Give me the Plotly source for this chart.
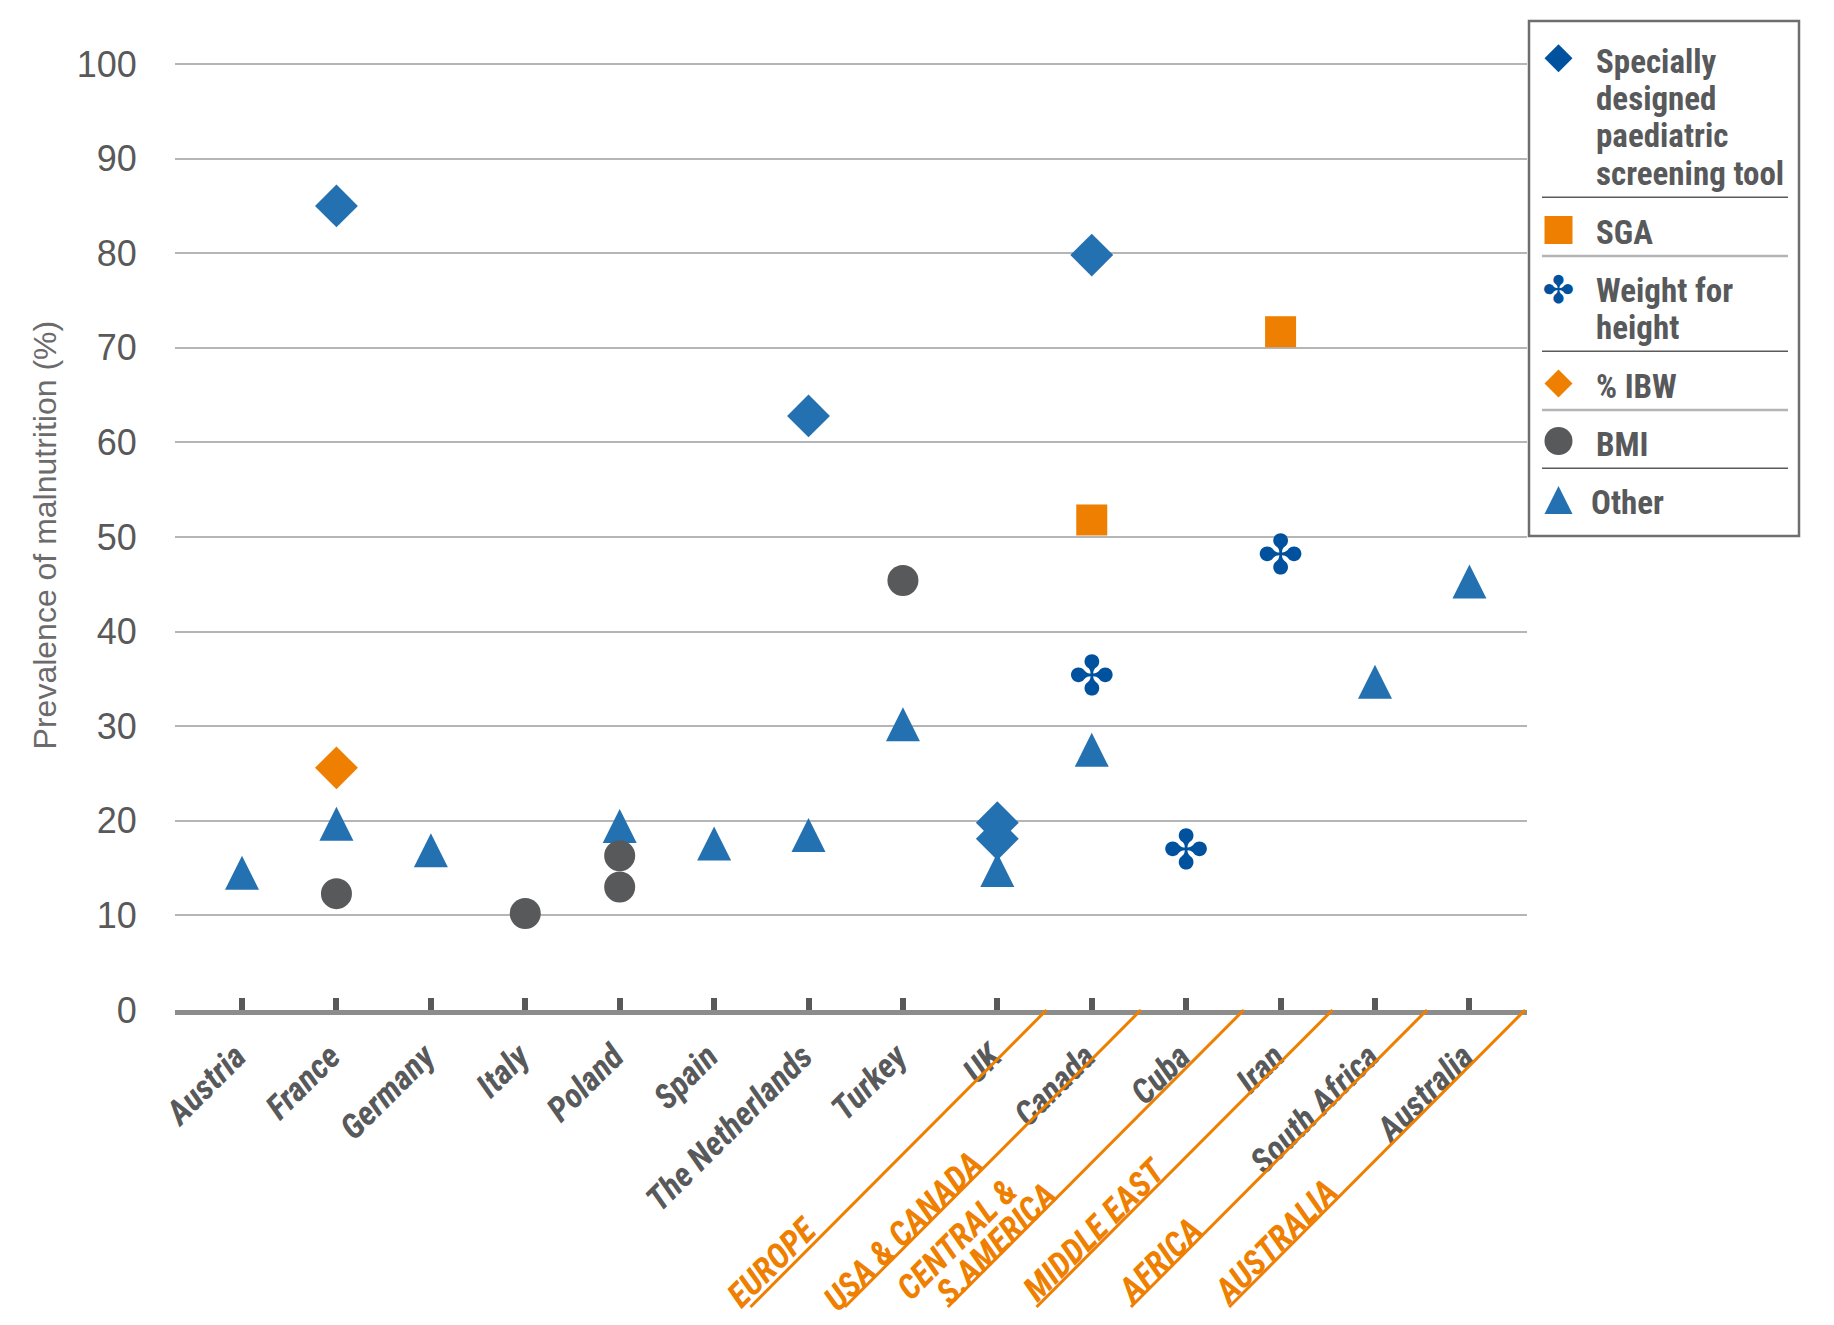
import plotly.graph_objects as go

# ---------------- data ----------------
countries = ["Austria", "France", "Germany", "Italy", "Poland", "Spain",
             "The Netherlands", "Turkey", "UK", "Canada", "Cuba", "Iran",
             "South Africa", "Australia"]

sdp_x = ["France", "The Netherlands", "UK", "UK", "Canada"]
sdp_y = [85.0, 62.8, 19.8, 18.1, 79.8]

sga_x = ["Canada", "Iran"]
sga_y = [51.8, 71.7]

wfh_x = ["Canada", "Cuba", "Iran"]
wfh_y = [34.8, 16.4, 47.5]

ibw_x = ["France"]
ibw_y = [25.6]

bmi_x = ["France", "Italy", "Poland", "Poland", "Turkey"]
bmi_y = [12.3, 10.2, 16.3, 13.0, 45.4]

oth_x = ["Austria", "France", "Germany", "Poland", "Spain", "The Netherlands",
         "Turkey", "UK", "Canada", "South Africa", "Australia"]
oth_y = [14.5, 19.7, 16.9, 19.45, 17.6, 18.5, 30.2, 14.8, 27.5, 34.7, 45.3]

series_names = ["Specially<br>designed<br>paediatric<br>screening tool", "SGA",
                "Weight for<br>height", "% IBW", "BMI", "Other"]

regions = ["EUROPE", "USA & CANADA", "CENTRAL &<br>S.AMERICA", "MIDDLE EAST",
           "AFRICA", "AUSTRALIA"]
y_ticks = [0, 10, 20, 30, 40, 50, 60, 70, 80, 90, 100]

# ---------------- geometry / styling ----------------
W, H = 1834, 1325
OFF = 8                                   # page body margin
PX0, PX1, PY0, PY1 = 175, 1527, 64, 1010  # plot area (px, as in reference)
Y_TOP = 100.4
PY_TOP = PY1 - (PY1 - PY0) * Y_TOP / 100.0


def fx(px):
    return (px - OFF) / W


def fy(py):
    return 1 - (py - OFF) / H


COND = "Roboto Condensed, Archivo Narrow, Arial Narrow, sans-serif"
REG = "Liberation Sans, Arial, Helvetica, sans-serif"
GLYPH = "DejaVu Sans, sans-serif"
TXT = "#58595B"
BLUE = "#2471B2"
DBLUE = "#00529F"
ORANGE = "#EE7F00"
GREY = "#58595B"

fig = go.Figure()

fig.add_trace(go.Scatter(
    x=oth_x, y=oth_y, mode="markers", name="Other", showlegend=False,
    marker=dict(symbol="arrow-down", angle=180, standoff=17, size=34, color=BLUE,
                line=dict(width=0)),
    cliponaxis=False))
fig.add_trace(go.Scatter(
    x=bmi_x, y=bmi_y, mode="markers", name="BMI", showlegend=False,
    marker=dict(symbol="circle", size=31, color=GREY, line=dict(width=0)),
    cliponaxis=False))
fig.add_trace(go.Scatter(
    x=ibw_x, y=ibw_y, mode="markers", name="% IBW", showlegend=False,
    marker=dict(symbol="diamond", size=33, color=ORANGE, line=dict(width=0)),
    cliponaxis=False))
fig.add_trace(go.Scatter(
    x=wfh_x, y=wfh_y, mode="text", name="Weight for height", showlegend=False,
    text=["\u2724"] * len(wfh_x), textposition="middle center",
    textfont=dict(family=GLYPH, size=55, color=DBLUE),
    cliponaxis=False))
fig.add_trace(go.Scatter(
    x=sga_x, y=sga_y, mode="markers", name="SGA", showlegend=False,
    marker=dict(symbol="square", size=31, color=ORANGE, line=dict(width=0)),
    cliponaxis=False))
fig.add_trace(go.Scatter(
    x=sdp_x, y=sdp_y, mode="markers",
    name="Specially designed paediatric screening tool", showlegend=False,
    marker=dict(symbol="diamond", size=33, color=BLUE, line=dict(width=0)),
    cliponaxis=False))

# ---------------- custom legend (keys on an overlay axis) ----------------
LBX0, LBX1, LBY0, LBY1 = 1529, 1799, 21, 536
key_x = 29.5
key_y = [37.3, 209, 272, 362.5, 420, 479]
key_styles = [
    dict(symbol="diamond", size=21.5, color=DBLUE),
    dict(symbol="square", size=28, color=ORANGE),
    None,
    dict(symbol="diamond", size=21.5, color=ORANGE),
    dict(symbol="circle", size=28, color=GREY),
    dict(symbol="arrow-down", angle=180, standoff=14, size=28, color=BLUE),
]
for i, st in enumerate(key_styles):
    if st is None:
        fig.add_trace(go.Scatter(
            x=[key_x], y=[key_y[i]], mode="text", text=["\u2724"], showlegend=False,
            textposition="middle center", hoverinfo="skip",
            textfont=dict(family=GLYPH, size=38, color=DBLUE),
            xaxis="x2", yaxis="y2", cliponaxis=False))
    else:
        fig.add_trace(go.Scatter(
            x=[key_x], y=[key_y[i]], mode="markers", showlegend=False,
            marker=dict(line=dict(width=0), **st), hoverinfo="skip",
            xaxis="x2", yaxis="y2", cliponaxis=False))

shapes = []
annotations = []

shapes.append(dict(type="rect", xref="paper", yref="paper",
                   x0=fx(LBX0), x1=fx(LBX1), y0=fy(LBY1), y1=fy(LBY0),
                   line=dict(color="#6e6e6e", width=2.5), fillcolor="rgba(0,0,0,0)"))
sep_y = [197.3, 256, 351.3, 410, 468.3]
sep_col = ["#5a5a5a", "#b4b4b4", "#5a5a5a", "#b4b4b4", "#5a5a5a"]
sep_w = [1.5, 2.5, 1.5, 2.5, 1.5]
for yy, cc, ww in zip(sep_y, sep_col, sep_w):
    shapes.append(dict(type="line", xref="paper", yref="paper",
                       x0=fx(1542), x1=fx(1788), y0=fy(yy), y1=fy(yy),
                       line=dict(color=cc, width=ww)))

# legend text: one annotation per printed line, placed on the reference baselines
LEG_FS = 33
leg_baselines = [[72.7, 110, 146.7, 184.3], [243.7], [301.7, 338.3], [397.7], [455.3], [514]]
leg_text_x = [1594, 1594, 1594, 1594, 1594, 1589]
for name, tx, bls in zip(series_names, leg_text_x, leg_baselines):
    for line_txt, bl in zip(name.split("<br>"), bls):
        annotations.append(dict(xref="paper", yref="paper", x=fx(tx), y=fy(bl - 0.342 * LEG_FS),
                                text=line_txt, showarrow=False, xanchor="left",
                                yanchor="middle", align="left",
                                font=dict(family=COND, size=LEG_FS, color=TXT, weight="bold")))

# ---------------- region separators & labels ----------------
region_edges = [8.52, 9.52, 10.61, 11.55, 12.55, 13.59]
for xe in region_edges:
    shapes.append(dict(type="line", xref="x", yref="paper",
                       xsizemode="pixel", ysizemode="pixel",
                       xanchor=xe, yanchor=fy(PY1),
                       x0=0, x1=-296, y0=0, y1=-297,
                       line=dict(color=ORANGE, width=3)))

# label centres (x in category units, y in px); two-line label is set line by line
region_pos = [[(5.61, 1262)], [(7.0, 1231)], [(7.57, 1239), (7.99, 1243)],
              [(9.03, 1229)], [(9.72, 1260)], [(10.95, 1241)]]
for lab, poss in zip(regions, region_pos):
    for part, (rx, ry) in zip(lab.split("<br>"), poss):
        annotations.append(dict(xref="x", yref="paper", x=rx, y=fy(ry), text=part,
                                showarrow=False, textangle=-45, xanchor="center",
                                yanchor="middle", align="center",
                                font=dict(family=COND, size=34, color=ORANGE,
                                          weight="bold", style="italic")))

fig.update_layout(
    width=W, height=H,
    margin=dict(l=0, r=0, t=0, b=0, autoexpand=False),
    paper_bgcolor="white", plot_bgcolor="white",
    showlegend=False,
    shapes=shapes, annotations=annotations,
    xaxis=dict(
        domain=[fx(PX0), fx(PX1)],
        type="category", categoryorder="array", categoryarray=countries,
        range=[-0.71, 13.61],
        showgrid=False, zeroline=False,
        showline=True, linecolor="#8c8c8c", linewidth=5,
        ticks="inside", ticklen=12, tickwidth=6, tickcolor="#58595B",
        tickangle=-45, ticklabelstandoff=8, ticklabelshift=-6,
        tickfont=dict(family=COND, size=34, color=TXT, weight="bold", style="italic"),
        fixedrange=True, automargin=False,
    ),
    yaxis=dict(
        domain=[fy(PY1), fy(PY_TOP)],
        range=[0, Y_TOP], tickvals=y_ticks,
        showgrid=True, gridcolor="#b5b5b5", gridwidth=1.5,
        zeroline=False, showline=False,
        ticks="outside", ticklen=30, tickcolor="rgba(0,0,0,0)",
        tickfont=dict(family=REG, size=36, color="#595959"),
        title=dict(text="Prevalence of malnutrition (%)", standoff=10,
                   font=dict(family=REG, size=32, color="#6b6b6b")),
        fixedrange=True, automargin=False,
    ),
    xaxis2=dict(domain=[fx(LBX0), fx(LBX1)], range=[0, LBX1 - LBX0],
                visible=False, anchor="y2", fixedrange=True),
    yaxis2=dict(domain=[fy(LBY1), fy(LBY0)], range=[LBY1 - LBY0, 0],
                visible=False, anchor="x2", fixedrange=True),
)

fig.write_html("out.html")
